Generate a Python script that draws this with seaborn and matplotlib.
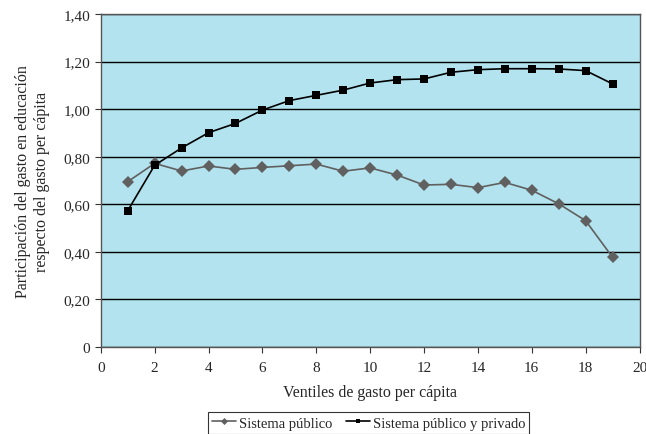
import matplotlib
matplotlib.use("Agg")
import matplotlib.pyplot as plt
import seaborn as sns
import pandas as pd
from matplotlib.ticker import FuncFormatter

# ventiles of per capita spending
ventiles = list(range(1, 20))
publico = [0.695, 0.772, 0.740, 0.761, 0.747, 0.755, 0.762, 0.769, 0.739, 0.753,
           0.723, 0.681, 0.684, 0.670, 0.692, 0.659, 0.602, 0.531, 0.377]
publico_privado = [0.573, 0.764, 0.837, 0.901, 0.940, 0.996, 1.036, 1.058, 1.080, 1.110,
                   1.124, 1.127, 1.155, 1.166, 1.170, 1.170, 1.169, 1.162, 1.106]

df = pd.DataFrame({
    'ventil': ventiles * 2,
    'valor': publico + publico_privado,
    'serie': ['Sistema público'] * len(ventiles) + ['Sistema público y privado'] * len(ventiles),
})

sns.set_style('ticks')
plt.rcParams['font.family'] = ['Liberation Serif', 'DejaVu Serif']

fig = plt.figure(figsize=(6.46, 4.35), dpi=100)
ax = fig.add_axes([0.156, 0.2, 0.834, 0.7655])
ax.set_facecolor('#b3e3ee')

ax = sns.lineplot(data=df, x='ventil', y='valor', hue='serie', style='serie',
                  palette={'Sistema público': '#606060', 'Sistema público y privado': 'black'},
                  markers={'Sistema público': 'D', 'Sistema público y privado': 's'},
                  dashes=False, markersize=6, markeredgewidth=0, linewidth=1.2, ax=ax)

ax.set_xlim(0, 20)
ax.set_ylim(0, 1.4)
ax.set_xticks(range(0, 21, 2))
ax.set_yticks([0, 0.2, 0.4, 0.6, 0.8, 1.0, 1.2, 1.4])
ax.yaxis.set_major_formatter(FuncFormatter(lambda v, p: '0' if v == 0 else f'{v:.2f}'.replace('.', ',')))
ax.grid(axis='y', color='black', linewidth=1.0)
ax.set_axisbelow(True)
for s in ax.spines.values():
    s.set_color('#555555')
    s.set_linewidth(1.0)
ax.tick_params(labelsize=11, color='#333333', length=4, direction='out')
ax.tick_params(axis='x', pad=6)

ax.set_xlabel('Ventiles de gasto per cápita', fontsize=11.5, labelpad=7)
ax.set_ylabel('Participación del gasto en educación\nrespecto del gasto per cápita', fontsize=11.5, labelpad=10)

leg = ax.legend(loc='upper center', bbox_to_anchor=(0.497, -0.195), borderaxespad=0, ncol=2,
                frameon=True, fancybox=False, fontsize=10.5, handlelength=1.65, markerscale=0.6,
                borderpad=0.3, columnspacing=0.9, handletextpad=0.2)
leg.get_frame().set_edgecolor('black')
leg.get_frame().set_linewidth(0.8)

fig.savefig('out.png', dpi=100)
